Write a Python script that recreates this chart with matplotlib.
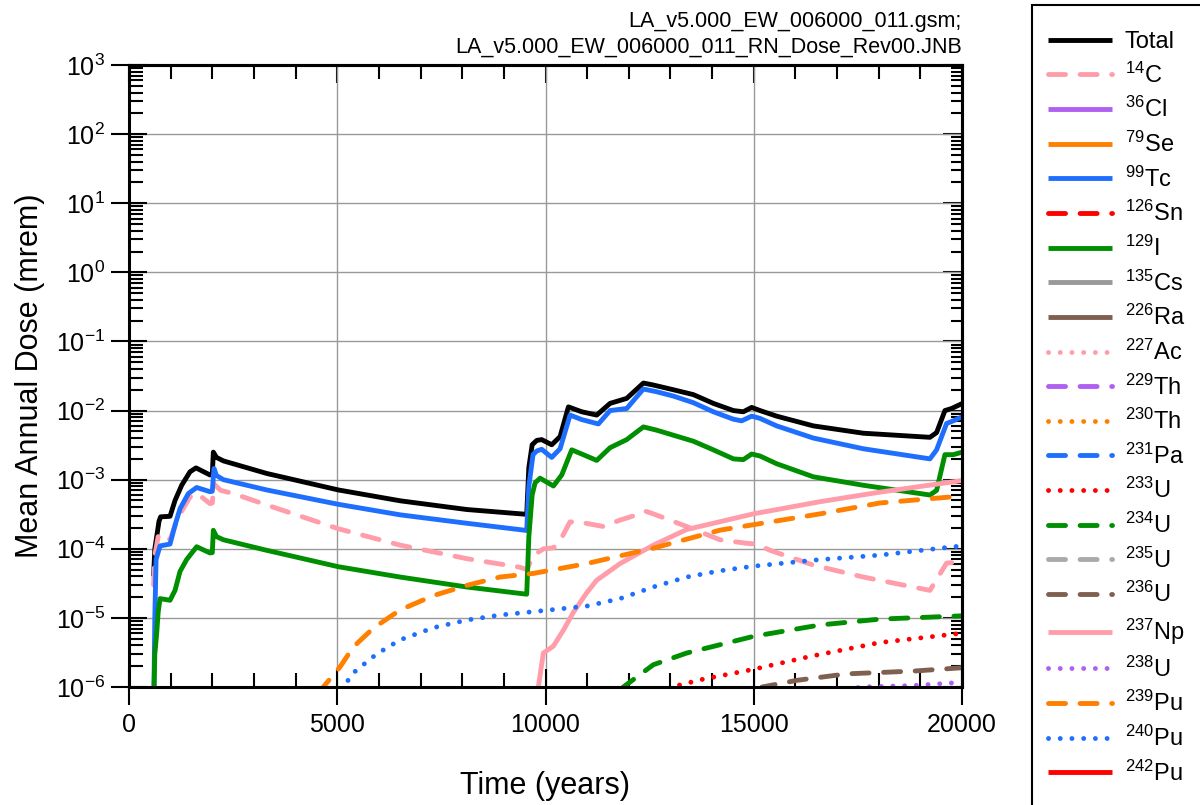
import numpy as np
import matplotlib
matplotlib.use('Agg')
import matplotlib.pyplot as plt
from matplotlib.ticker import LogLocator, NullFormatter, MultipleLocator, FuncFormatter
from matplotlib.patches import Rectangle

plt.rcParams['font.family'] = ['Liberation Sans', 'DejaVu Sans']
plt.rcParams['mathtext.default'] = 'regular'

# ---------------- data ----------------
t_total = [590, 620, 665, 720, 760, 985, 1105, 1265, 1465, 1609, 1945, 2000, 2025, 2100, 2265, 3306, 5025, 6507,
           8108, 9549, 9600, 9680, 9790, 9908, 10149, 10350, 10550, 10870, 11230, 11550, 11950, 12350, 12590,
           13070, 13550, 14030, 14510, 14750, 14950, 15150, 15550, 16430, 17630, 19230, 19390, 19590, 19750, 20000]
y_total = [4e-5, 1.0e-4, 1.5e-4, 2.5e-4, 2.9e-4, 2.95e-4, 5e-4, 8.3e-4, 1.3e-3, 1.48e-3, 1.17e-3, 1.2e-3, 2.5e-3,
           2.1e-3, 1.87e-3, 1.23e-3, 7.1e-4, 4.95e-4, 3.7e-4, 3.15e-4, 1.5e-3, 3.2e-3, 3.7e-3, 3.8e-3, 3.2e-3,
           4.2e-3, 1.13e-2, 9.6e-3, 8.6e-3, 1.27e-2, 1.5e-2, 2.5e-2, 2.34e-2, 2.0e-2, 1.7e-2, 1.27e-2, 1.0e-2,
           9.6e-3, 1.11e-2, 1.0e-2, 8.3e-3, 6.0e-3, 4.7e-3, 4.1e-3, 4.8e-3, 1.0e-2, 1.07e-2, 1.26e-2]

t_c14 = [590, 620, 700, 870, 985, 1185, 1465, 1625, 1945, 2000, 2040, 2200, 2505, 3306, 5025, 6507, 8108, 9388,
         9550, 9710, 9950, 10190, 10348, 10588, 10870, 11388, 11789, 12269, 12400, 12589, 13390, 14190, 14830,
         15070, 15390, 16431, 17630, 19230, 19630, 20000]
y_c14 = [3e-5, 8e-5, 1.5e-4, 1.65e-4, 1.35e-4, 2.9e-4, 5.6e-4, 6.4e-4, 4.5e-4, 4.6e-4, 8.7e-4, 7.0e-4, 6.3e-4,
         4.3e-4, 1.95e-4, 1.13e-4, 7.2e-5, 5.4e-5, 5.0e-5, 8.0e-5, 1.0e-4, 1.03e-4, 1.3e-4, 2.45e-4, 2.4e-4,
         2.1e-4, 2.6e-4, 3.2e-4, 3.5e-4, 3.2e-4, 2.1e-4, 1.35e-4, 1.2e-4, 1.17e-4, 9.5e-5, 5.8e-5, 3.9e-5,
         2.5e-5, 6.2e-5, 6.5e-5]

t_tc99 = [600, 620, 650, 745, 985, 1105, 1225, 1425, 1625, 1945, 2000, 2040, 2100, 2265, 3306, 5025, 6507, 8108,
          9549, 9600, 9700, 9790, 9908, 10149, 10350, 10590, 10870, 11270, 11550, 11950, 12350, 12670, 13070,
          13550, 14030, 14510, 14710, 14950, 15150, 15550, 16430, 17630, 19230, 19390, 19630, 19790, 20000]
y_tc99 = [1e-6, 1e-5, 7e-5, 1.1e-4, 1.17e-4, 2.2e-4, 3.8e-4, 6.3e-4, 7.7e-4, 6.7e-4, 6.8e-4, 1.45e-3, 1.15e-3,
          1.0e-3, 7.1e-4, 4.4e-4, 3.1e-4, 2.34e-4, 1.84e-4, 8e-4, 2.3e-3, 2.6e-3, 2.75e-3, 2.1e-3, 2.8e-3,
          8.6e-3, 7.4e-3, 6.4e-3, 1.0e-2, 1.07e-2, 2.05e-2, 1.87e-2, 1.62e-2, 1.3e-2, 9.6e-3, 7.5e-3, 7.1e-3,
          8.3e-3, 7.7e-3, 6.0e-3, 4.0e-3, 2.8e-3, 2.0e-3, 2.7e-3, 6.5e-3, 7.1e-3, 8.1e-3]

t_i129 = [590, 620, 665, 700, 745, 985, 1105, 1225, 1385, 1625, 1945, 2000, 2025, 2100, 2265, 3306, 5025, 6507,
          8108, 9549, 9600, 9680, 9750, 9870, 10190, 10390, 10630, 10870, 11230, 11550, 11950, 12350, 12670,
          13070, 13550, 14030, 14510, 14750, 14950, 15150, 15550, 16430, 17630, 19230, 19390, 19590, 19790, 20000]
y_i129 = [5e-7, 3e-6, 6e-6, 1.2e-5, 1.9e-5, 1.8e-5, 2.5e-5, 4.7e-5, 7e-5, 1.07e-4, 8.7e-5, 8.8e-5, 1.85e-4,
          1.5e-4, 1.35e-4, 9.5e-5, 5.5e-5, 3.9e-5, 2.8e-5, 2.2e-5, 1.5e-4, 6e-4, 9e-4, 1.05e-3, 8.1e-4, 1.17e-3,
          2.7e-3, 2.35e-3, 1.9e-3, 2.9e-3, 3.8e-3, 5.8e-3, 5.2e-3, 4.4e-3, 3.6e-3, 2.7e-3, 2.0e-3, 1.95e-3,
          2.35e-3, 2.2e-3, 1.7e-3, 1.1e-3, 8.3e-4, 6.0e-4, 7.0e-4, 2.3e-3, 2.3e-3, 2.5e-3]

t_np237 = [9780, 9828, 9948, 10188, 10428, 10668, 10988, 11228, 11789, 12589, 13390, 14990, 16591, 18030, 20000]
y_np237 = [7e-7, 1e-6, 3.1e-6, 3.9e-6, 6.6e-6, 1.2e-5, 2.3e-5, 3.5e-5, 6.1e-5, 1.13e-4, 1.9e-4, 3.2e-4, 4.8e-4,
           6.6e-4, 9.7e-4]

t_pu239 = [4550, 4665, 5066, 5386, 5866, 6507, 7307, 8108, 8908, 9708, 10988, 12589, 14190, 16591, 18030, 20000]
y_pu239 = [8e-7, 1e-6, 1.95e-6, 3.8e-6, 7.1e-6, 1.3e-5, 2.1e-5, 2.95e-5, 3.9e-5, 4.4e-5, 6.1e-5, 1.02e-4, 1.86e-4,
           3.2e-4, 4.6e-4, 5.8e-4]

t_pu240 = [5100, 5146, 5386, 5666, 5946, 6507, 7307, 8108, 8908, 9708, 10988, 11789, 12589, 13390, 14190, 14990,
           16511, 18030, 19790, 20000]
y_pu240 = [9e-7, 1e-6, 1.6e-6, 2.2e-6, 3.0e-6, 4.8e-6, 7.2e-6, 9.3e-6, 1.1e-5, 1.23e-5, 1.48e-5, 1.9e-5, 2.8e-5,
           3.9e-5, 4.8e-5, 5.6e-5, 6.9e-5, 8.1e-5, 1.07e-4, 1.1e-4]

t_u234 = [11800, 11869, 12589, 13390, 14990, 16591, 18030, 20000]
y_u234 = [9e-7, 1e-6, 2.1e-6, 3.1e-6, 5.4e-6, 7.9e-6, 9.6e-6, 1.07e-5]

t_u233 = [12950, 13030, 13789, 14990, 16391, 18030, 20000]
y_u233 = [9.5e-7, 1e-6, 1.3e-6, 1.8e-6, 2.8e-6, 4.4e-6, 6e-6]

t_u236 = [15150, 15200, 16040, 17240, 18840, 20000]
y_u236 = [9e-7, 1e-6, 1.25e-6, 1.55e-6, 1.7e-6, 1.9e-6]

t_u238 = [17500, 17540, 18840, 20000]
y_u238 = [9.8e-7, 1e-6, 1.05e-6, 1.17e-6]

empty = []

labels = ['Total', '$^{14}$C', '$^{36}$Cl', '$^{79}$Se', '$^{99}$Tc', '$^{126}$Sn', '$^{129}$I', '$^{135}$Cs',
          '$^{226}$Ra', '$^{227}$Ac', '$^{229}$Th', '$^{230}$Th', '$^{231}$Pa', '$^{233}$U', '$^{234}$U',
          '$^{235}$U', '$^{236}$U', '$^{237}$Np', '$^{238}$U', '$^{239}$Pu', '$^{240}$Pu', '$^{242}$Pu']

series = [(t_total, y_total), (t_c14, y_c14), (empty, empty), (empty, empty), (t_tc99, y_tc99), (empty, empty),
          (t_i129, y_i129), (empty, empty), (empty, empty), (empty, empty), (empty, empty), (empty, empty),
          (empty, empty), (t_u233, y_u233), (t_u234, y_u234), (empty, empty), (t_u236, y_u236),
          (t_np237, y_np237), (t_u238, y_u238), (t_pu239, y_pu239), (t_pu240, y_pu240), (empty, empty)]

# ---------------- styles ----------------
BLACK = '#000000'; PINK = '#ff9eaa'; PURPLE = '#b060f0'; ORANGE = '#ff7f00'; BLUE = '#1f6fff'
RED = '#ff0000'; GREEN = '#008f00'; GRAY = '#999999'; BROWN = '#7f6050'; LGRAY = '#aaaaaa'
DASH = (0, (3.5, 3.0))
DOT = (0, (0.01, 2.4))
styles = [(BLACK, '-'), (PINK, DASH), (PURPLE, '-'), (ORANGE, '-'), (BLUE, '-'), (RED, DASH), (GREEN, '-'),
          (GRAY, '-'), (BROWN, '-'), (PINK, DOT), (PURPLE, DASH), (ORANGE, DOT), (BLUE, DASH), (RED, DOT),
          (GREEN, DASH), (LGRAY, DASH), (BROWN, DASH), (PINK, '-'), (PURPLE, DOT), (ORANGE, DASH), (BLUE, DOT),
          (RED, '-')]

fig = plt.figure(figsize=(12, 8.05), dpi=100)
ax = fig.add_axes([129/1200, 1-687/805, (962-129)/1200, (687-65)/805])

handles = []
for (t, y), (c, ls), lab in zip(series, styles, labels):
    ln, = ax.plot(t, y, color=c, linestyle=ls, lw=3.5, label=lab,
                  dash_capstyle='round', solid_capstyle='butt', solid_joinstyle='round')
    handles.append(ln)

ax.set_yscale('log')
ax.set_xlim(0, 20000)
ax.set_ylim(1e-6, 1e3)

ax.xaxis.set_major_locator(MultipleLocator(5000))
ax.xaxis.set_minor_locator(MultipleLocator(1000))
ax.yaxis.set_major_locator(LogLocator(base=10, numticks=20))
ax.yaxis.set_minor_locator(LogLocator(base=10, subs=np.arange(2, 10), numticks=100))
ax.yaxis.set_minor_formatter(NullFormatter())
ax.yaxis.set_major_formatter(FuncFormatter(lambda v, p: '$10^{%d}$' % int(round(np.log10(v)))))

ax.grid(True, which='major', color='#999999', lw=1.0)
ax.set_axisbelow(True)

ax.tick_params(which='major', direction='inout', length=26, width=1.5, labelsize=18, color='black')
ax.tick_params(axis='x', which='major', pad=6)
ax.tick_params(axis='y', which='major', pad=4)
ax.tick_params(which='minor', direction='in', length=10, width=1.5)
ax.tick_params(top=False, right=False)

for s in ax.spines.values():
    s.set_linewidth(2.2)

# top / right ticks (inward only)
secx = ax.secondary_xaxis('top')
secx.xaxis.set_major_locator(MultipleLocator(5000))
secx.xaxis.set_minor_locator(MultipleLocator(1000))
secx.tick_params(which='major', direction='in', length=13, width=1.5, labeltop=False)
secx.tick_params(which='minor', direction='in', length=10, width=1.5)
secx.spines['top'].set_linewidth(2.2)

secy = ax.secondary_yaxis('right')
secy.yaxis.set_major_locator(LogLocator(base=10, numticks=20))
secy.yaxis.set_minor_locator(LogLocator(base=10, subs=np.arange(2, 10), numticks=100))
secy.tick_params(which='major', direction='in', length=14, width=1.5, labelright=False)
secy.tick_params(which='minor', direction='in', length=8, width=1.5)
secy.yaxis.set_minor_formatter(NullFormatter())
secy.spines['right'].set_linewidth(2.2)

ax.set_xlabel('Time (years)', fontsize=22)
ax.xaxis.set_label_coords(0.5, -(786-687)/622)
ax.xaxis.label.set_va('center')
ax.set_ylabel('Mean Annual Dose (mrem)', fontsize=22)
ax.yaxis.set_label_coords(-(129-30)/833, 0.5)
ax.yaxis.label.set_va('center')

fig.text(962/1200, 1-27/805, 'LA_v5.000_EW_006000_011.gsm;', ha='right', va='baseline', fontsize=15.5)
fig.text(962/1200, 1-53/805, 'LA_v5.000_EW_006000_011_RN_Dose_Rev00.JNB', ha='right', va='baseline', fontsize=15.5)

leg = fig.legend(handles, labels, loc='upper left', bbox_to_anchor=(1048/1200, 1-31/805), frameon=False,
                 fontsize=17, handlelength=2.71, handletextpad=0.55, labelspacing=0.40,
                 borderpad=0, borderaxespad=0)

fig.patches.append(Rectangle((1032/1200, -0.1), 0.3, 0.1 + (1-5/805),
                             transform=fig.transFigure, fill=False, edgecolor='black', lw=1.5, clip_on=False))

fig.savefig('out.png', dpi=100)
